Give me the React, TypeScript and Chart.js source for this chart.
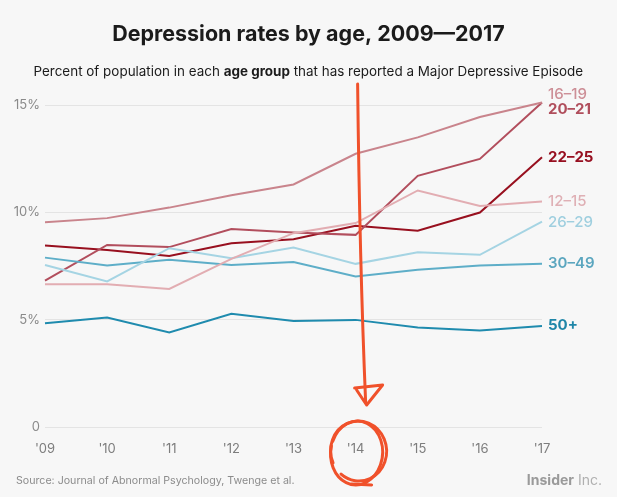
import React, { useEffect, useRef } from "react";
import { Chart, registerables } from "chart.js";

Chart.register(...registerables);

const years = ["'09", "'10", "'11", "'12", "'13", "'14", "'15", "'16", "'17"];
const age12to15 = [6.65, 6.65, 6.43, 7.83, 9.03, 9.5, 11.02, 10.3, 10.5];
const age16to19 = [9.54, 9.73, 10.22, 10.8, 11.3, 12.73, 13.49, 14.44, 15.12];
const age20to21 = [6.82, 8.48, 8.38, 9.22, 9.06, 8.95, 11.7, 12.49, 15.12];
const age22to25 = [8.45, 8.25, 7.97, 8.56, 8.75, 9.37, 9.14, 9.99, 12.57];
const age26to29 = [7.55, 6.78, 8.33, 7.86, 8.36, 7.6, 8.14, 8.02, 9.57];
const age30to49 = [7.89, 7.52, 7.79, 7.55, 7.69, 7.01, 7.32, 7.52, 7.6];
const age50plus = [4.83, 5.1, 4.4, 5.27, 4.94, 4.99, 4.63, 4.49, 4.71];
const seriesNames = ["12–15", "16–19", "20–21", "22–25", "26–29", "30–49", "50+"];
const highlightIndex = 5; // '14

const FONT = "Inter, 'Noto Sans', sans-serif";

const styles: Record<string, { color: string; text: string; weight: number; dy: number }> = {
  "12–15": { color: "#e2adb2", text: "#dfb0b5", weight: 500, dy: 0 },
  "16–19": { color: "#c9848c", text: "#cd8f97", weight: 500, dy: -8 },
  "20–21": { color: "#b24e5d", text: "#b04e5c", weight: 700, dy: 7 },
  "22–25": { color: "#98101f", text: "#970f20", weight: 700, dy: 0 },
  "26–29": { color: "#a5d4e3", text: "#9fcfdf", weight: 500, dy: 1 },
  "30–49": { color: "#5eaec8", text: "#5ba6bf", weight: 600, dy: 0 },
  "50+": { color: "#1f8bae", text: "#1f86a8", weight: 700, dy: 0 },
};

const seriesData = [age12to15, age16to19, age20to21, age22to25, age26to29, age30to49, age50plus];

function fitFont(ctx: CanvasRenderingContext2D, weight: number, text: string, width: number) {
  ctx.font = `${weight} 100px ${FONT}`;
  const w = ctx.measureText(text).width;
  return (100 * width) / w;
}

const decorPlugin = {
  id: "decor",
  beforeDraw(chart: any) {
    const ctx = chart.ctx as CanvasRenderingContext2D;
    ctx.save();
    ctx.fillStyle = "#f7f7f7";
    ctx.fillRect(0, 0, chart.width, chart.height);
    ctx.restore();
  },
  afterDraw(chart: any) {
    const ctx = chart.ctx as CanvasRenderingContext2D;
    const W = chart.width;
    ctx.save();
    // Title
    const title = "Depression rates by age, 2009—2017";
    const ts = fitFont(ctx, 700, title, 393);
    ctx.font = `700 ${ts}px ${FONT}`;
    ctx.fillStyle = "#1b1b1b";
    ctx.textAlign = "center";
    ctx.textBaseline = "alphabetic";
    ctx.fillText(title, W / 2, 41);

    // Subtitle with bold part
    const parts = [
      { t: "Percent of population in each ", b: false },
      { t: "age group", b: true },
      { t: " that has reported a Major Depressive Episode", b: false },
    ];
    let total = 0;
    for (const p of parts) {
      ctx.font = `${p.b ? 700 : 400} 100px ${FONT}`;
      total += ctx.measureText(p.t).width;
    }
    const ss = (100 * 550) / total;
    let x = W / 2 - 275;
    ctx.textAlign = "left";
    ctx.fillStyle = "#1b1b1b";
    for (const p of parts) {
      ctx.font = `${p.b ? 700 : 400} ${ss}px ${FONT}`;
      ctx.fillText(p.t, x, 76);
      x += ctx.measureText(p.t).width;
    }

    // End labels
    chart.data.datasets.forEach((ds: any, i: number) => {
      const meta = chart.getDatasetMeta(i);
      const pt = meta.data[meta.data.length - 1];
      const st = styles[ds.label];
      ctx.font = `${st.weight} 15px ${FONT}`;
      ctx.fillStyle = st.text;
      ctx.textAlign = "left";
      ctx.textBaseline = "middle";
      ctx.fillText(ds.label, pt.x + 6, pt.y + st.dy);
    });

    // Source
    const src = "Source: Journal of Abnormal Psychology, Twenge et al.";
    const srcSize = fitFont(ctx, 400, src, 279);
    ctx.font = `400 ${srcSize}px ${FONT}`;
    ctx.fillStyle = "#8c8c8c";
    ctx.textAlign = "left";
    ctx.textBaseline = "middle";
    ctx.fillText(src, 16, 481);

    // Insider Inc.
    ctx.font = `700 14px ${FONT}`;
    const w1 = ctx.measureText("Insider").width;
    ctx.font = `400 14px ${FONT}`;
    const w2 = ctx.measureText(" Inc.").width;
    const startX = 602 - w1 - w2;
    ctx.font = `700 14px ${FONT}`;
    ctx.fillStyle = "#9a9a9a";
    ctx.fillText("Insider", startX, 481);
    ctx.font = `400 14px ${FONT}`;
    ctx.fillStyle = "#b0b0b0";
    ctx.fillText(" Inc.", startX + w1, 481);

    // Hand-drawn annotation: arrow and circle around highlighted year
    const xs = chart.scales.x;
    const hx = xs.getPixelForValue(highlightIndex);
    ctx.strokeStyle = "#f0512b";
    ctx.lineWidth = 3;
    ctx.lineCap = "round";
    ctx.lineJoin = "round";
    ctx.beginPath();
    ctx.moveTo(hx + 2, 84);
    ctx.quadraticCurveTo(hx + 4, 260, hx + 10, 402);
    ctx.stroke();
    ctx.beginPath();
    ctx.moveTo(hx - 1, 388);
    ctx.lineTo(hx + 27, 385);
    ctx.lineTo(hx + 11, 405);
    ctx.lineTo(hx + 1, 390);
    ctx.stroke();
    ctx.beginPath();
    ctx.ellipse(hx + 1, 453, 26, 32, 0.08, Math.PI * 1.1, Math.PI * 3.05);
    ctx.stroke();
    ctx.beginPath();
    ctx.ellipse(hx + 3, 451, 28, 30, -0.1, Math.PI * 0.9, Math.PI * 2.75);
    ctx.stroke();
    ctx.beginPath();
    ctx.moveTo(hx - 4, 484);
    ctx.lineTo(hx + 16, 485);
    ctx.stroke();
    ctx.restore();
  },
};

export default function App() {
  const ref = useRef<HTMLCanvasElement | null>(null);
  useEffect(() => {
    document.body.style.margin = "0";
    document.body.style.background = "#f7f7f7";
    const canvas = ref.current;
    if (!canvas) return;
    const order = [0, 4, 5, 6, 1, 2, 3];
    const chart = new Chart(canvas, {
      type: "line",
      data: {
        labels: years,
        datasets: order.map((i) => ({
          label: seriesNames[i],
          data: seriesData[i],
          borderColor: styles[seriesNames[i]].color,
          backgroundColor: styles[seriesNames[i]].color,
          borderWidth: 2,
          pointRadius: 0,
          tension: 0,
          clip: false as any,
        })),
      },
      options: {
        responsive: false,
        animation: false,
        events: [],
        layout: { padding: { top: 105, right: 75, bottom: 0, left: 0 } },
        plugins: {
          legend: { display: false },
          title: { display: false },
          tooltip: { enabled: false },
        },
        scales: {
          x: {
            type: "category",
            offset: false,
            grid: { display: false, drawTicks: false },
            border: { display: false },
            ticks: {
              padding: 14,
              maxRotation: 0,
              autoSkip: false,
              color: "#7d7d7d",
              font: { family: FONT, size: 13 },
            },
            afterFit: (s: any) => {
              s.height = 70;
            },
          },
          y: {
            min: 0,
            max: 15,
            grid: { color: "#e4e4e4", lineWidth: 1, drawTicks: false },
            border: { display: false },
            ticks: {
              stepSize: 5,
              padding: 5,
              color: "#8a8a8a",
              font: { family: FONT, size: 13 },
              callback: (v: any) => (Number(v) === 0 ? "0" : `${v}%`),
            },
            afterFit: (s: any) => {
              s.width = 45;
            },
          },
        },
      },
      plugins: [decorPlugin],
    });
    return () => chart.destroy();
  }, []);
  return <canvas ref={ref} width={617} height={497} style={{ display: "block" }} />;
}
